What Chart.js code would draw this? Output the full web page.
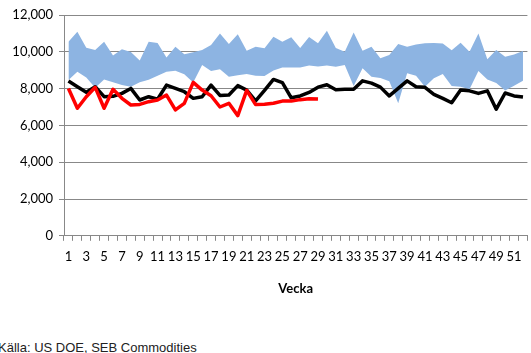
<!DOCTYPE html>
<html>
<head>
<meta charset="utf-8">
<script src="https://cdn.jsdelivr.net/npm/chart.js@4"></script>
<style>
  html, body { margin: 0; padding: 0; background: #fff; }
  #wrap { position: relative; width: 531px; height: 353px; overflow: hidden; }
  #chart { position: absolute; left: 0; top: 0; }
  #source {
    position: absolute; left: -2px; top: 340px;
    font: 13px "Liberation Sans", Arial, sans-serif; line-height: 15px;
    color: #222; white-space: nowrap;
  }
</style>
</head>
<body>
<div id="wrap">
  <canvas id="chart" width="531" height="300"></canvas>
  <div id="source">Källa: US DOE, SEB Commodities</div>
</div>
<script>
  // weeks 1..52
  const weeks = [1, 2, 3, 4, 5, 6, 7, 8, 9, 10, 11, 12, 13, 14, 15, 16, 17, 18, 19, 20,
    21, 22, 23, 24, 25, 26, 27, 28, 29, 30, 31, 32, 33, 34, 35, 36, 37, 38, 39, 40,
    41, 42, 43, 44, 45, 46, 47, 48, 49, 50, 51, 52];

  // top and bottom of the blue range band
  const rangeMax = [10550, 11090, 10220, 10100, 10550, 9800, 10140, 9990, 9530, 10550,
    10480, 9690, 10280, 9870, 9970, 10100, 10370, 11000, 10420, 10950,
    10060, 10280, 10190, 10820, 10550, 10790, 10200, 10800, 10460, 11140,
    10200, 10000, 11050, 10060, 10280, 9650, 9830, 10420, 10280, 10400,
    10460, 10480, 10450, 10080, 10490, 10000, 11000, 9600, 10100, 9730,
    9860, 10040];
  const rangeMin = [8465, 8920, 8600, 8040, 8500, 8350, 8190, 8100, 8350, 8480,
    8700, 8920, 8970, 8780, 8330, 9280, 8950, 9050, 8650, 8720,
    8790, 8700, 8690, 8980, 9150, 9150, 9150, 9260, 9200, 9250,
    9190, 9280, 8140, 9100, 8650, 8580, 8400, 7200, 8830, 8700,
    8100, 8560, 8790, 8140, 8100, 7960, 8950, 8500, 8300, 7900,
    8150, 8420];

  // previous year (black) and current year (red)
  const lastYear = [8410, 8100, 7800, 8100, 7560, 7580, 7740, 8010, 7380, 7560,
    7420, 8190, 8010, 7830, 7470, 7560, 8190, 7630, 7650, 8160,
    7920, 7330, 7900, 8500, 8330, 7500, 7600, 7790, 8080, 8210,
    7940, 7960, 7960, 8420, 8300, 8080, 7600, 8010, 8420, 8100,
    8070, 7690, 7470, 7230, 7920, 7880, 7740, 7880, 6880, 7760,
    7600, 7540];
  const thisYear = [8010, 6930, 7560, 8070, 6930, 7960, 7470, 7110, 7140, 7290,
    7380, 7650, 6840, 7200, 8340, 7920, 7610, 7000, 7200, 6530,
    7900, 7130, 7150, 7200, 7320, 7320, 7400, 7450, 7430];

  const yTicks = [0, 2000, 4000, 6000, 8000, 10000, 12000];

  const gridGray = '#888888';
  const font = { family: 'Lato, "Open Sans", sans-serif', size: 13 };

  const ctx = document.getElementById('chart').getContext('2d');
  new Chart(ctx, {
    type: 'line',
    data: {
      labels: weeks,
      datasets: [
        { data: thisYear, borderColor: '#ff0000', borderWidth: 3.5, pointRadius: 0,
          tension: 0, fill: false, borderJoinStyle: 'round' },
        { data: lastYear, borderColor: '#000000', borderWidth: 3.5, pointRadius: 0,
          tension: 0, fill: false, borderJoinStyle: 'round' },
        { data: rangeMax, borderColor: '#8db4e2', borderWidth: 0, pointRadius: 0,
          tension: 0, fill: '+1', backgroundColor: '#8db4e2' },
        { data: rangeMin, borderColor: '#8db4e2', borderWidth: 0, pointRadius: 0,
          tension: 0, fill: false }
      ]
    },
    options: {
      responsive: false,
      animation: false,
      layout: { padding: { top: 15, right: 2, bottom: 3, left: 0 } },
      plugins: {
        legend: { display: false },
        tooltip: { enabled: false }
      },
      scales: {
        x: {
          offset: true,
          grid: { offset: true, drawOnChartArea: false, tickLength: 5, color: gridGray },
          border: { color: gridGray },
          ticks: {
            autoSkip: false, maxRotation: 0, padding: 8, color: '#000', font: font,
            callback: (v, i) => (weeks[i] % 2 === 1 ? String(weeks[i]) : '')
          },
          title: {
            display: true, text: 'Vecka', color: '#000',
            font: { family: font.family, size: 13, weight: 'bold' },
            padding: { top: 9, bottom: 0 }
          }
        },
        y: {
          min: 0, max: 12000,
          afterBuildTicks: s => { s.ticks = yTicks.map(v => ({ value: v })); },
          afterFit: s => { s.width = 64; },
          grid: { color: gridGray, tickLength: 5 },
          border: { color: gridGray },
          ticks: {
            padding: 6, color: '#000', font: font,
            callback: v => v.toLocaleString('en-US')
          }
        }
      }
    }
  });
</script>
</body>
</html>
